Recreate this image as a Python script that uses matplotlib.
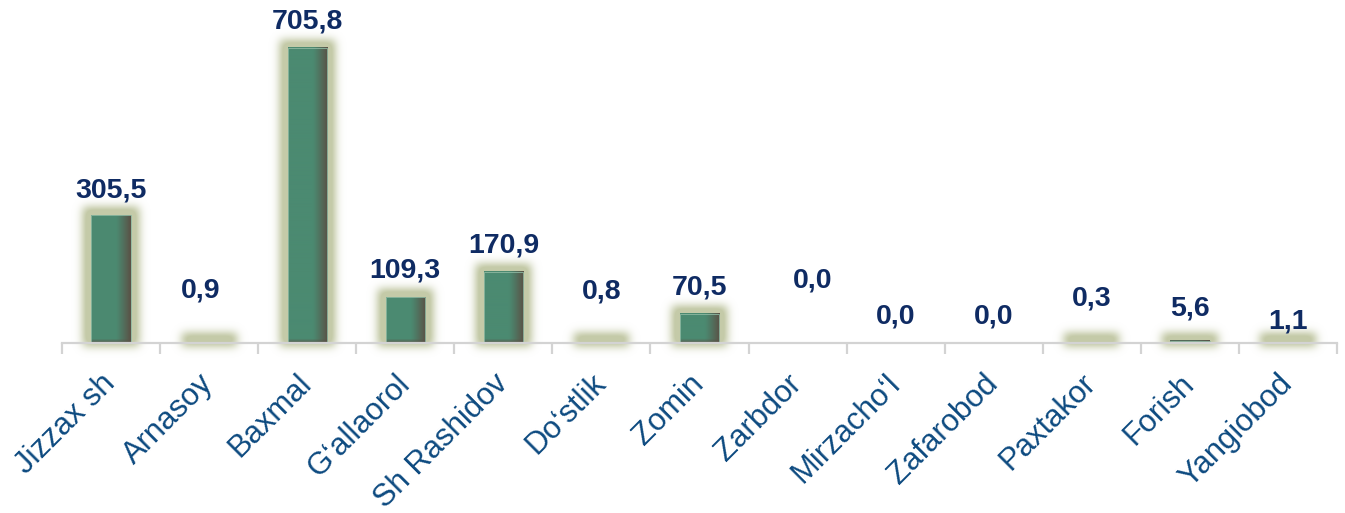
import numpy as np
import matplotlib
matplotlib.use("Agg")
import matplotlib.pyplot as plt
from matplotlib.patches import Rectangle

plt.rcParams['font.family'] = ['Liberation Sans', 'DejaVu Sans']

# Districts and values
districts = ["Jizzax sh", "Arnasoy", "Baxmal", "G\u2018allaorol", "Sh Rashidov",
             "Do\u2018stlik", "Zomin", "Zarbdor", "Mirzacho\u2018l", "Zafarobod",
             "Paxtakor", "Forish", "Yangiobod"]
values = [305.5, 0.9, 705.8, 109.3, 170.9, 0.8, 70.5, 0.0, 0.0, 0.0, 0.3, 5.6, 1.1]

# Label placement (pixels relative to bar top / category centre)
label_dy = [25, 52, 26, 27, 26, 51, 26, 63, 26, 26, 44, 32, 21]
label_dx = [0, -8, 0, 0, 0, 0, 0, 15, 0, 0, 0, 0, 0]

W, H, DPI = 1345, 513, 100
fig = plt.figure(figsize=(W / DPI, H / DPI), dpi=DPI)
fig.patch.set_facecolor('white')

bg = fig.add_axes([0, 0, 1, 1], zorder=0)
bg.set_axis_off()

ax = fig.add_axes([62 / W, 170 / H, 1275 / W, 343 / H], zorder=1)
ax.patch.set_alpha(0)
n = len(values)
ymax = 820.6
ax.set_xlim(0, n)
ax.set_ylim(0, ymax)

bar_w = 0.4
fig.canvas.draw()

# Soft glow behind each non-zero bar, built in pixel space
mask = np.zeros((H, W))
expand = 8
for i, v in enumerate(values):
    if v <= 0:
        continue
    (x0, y0), (x1, y1) = ax.transData.transform([(i + 0.5 - bar_w / 2, 0),
                                                 (i + 0.5 + bar_w / 2, v)])
    y1 = max(y1, y0 + 1.5)
    c0 = int(round(x0 - expand)); c1 = int(round(x1 + expand))
    r0 = int(round(y0 - 3)); r1 = int(round(y1 + expand))
    mask[r0:r1, c0:c1] = 1.0

sigma = 4.5
k = np.arange(-16, 17)
kern = np.exp(-k ** 2 / (2 * sigma ** 2)); kern /= kern.sum()
blur = np.apply_along_axis(lambda r: np.convolve(r, kern, mode='same'), 1, mask)
blur = np.apply_along_axis(lambda c: np.convolve(c, kern, mode='same'), 0, blur)
glow = np.zeros((H, W, 4))
glow[..., 0] = 0.73; glow[..., 1] = 0.76; glow[..., 2] = 0.60
glow[..., 3] = np.clip(blur * 1.35, 0, 1) * 0.85
bg.imshow(glow, origin='lower', extent=(0, W, 0, H), interpolation='bilinear')
bg.set_xlim(0, W); bg.set_ylim(0, H)

# Bars with horizontal shading and darker foot
teal = np.array([75, 138, 113]) / 255
dark = np.array([90, 82, 70]) / 255
px_per_unit = 343 / ymax
for i, v in enumerate(values):
    if v <= 0:
        continue
    hp = max(int(round(v * px_per_unit)), 1)
    cols = 40
    t = np.linspace(0, 1, cols)
    wgt = np.clip((t - 0.62) / 0.38, 0, 1) ** 1.2
    row = teal[None, :] * (1 - wgt[:, None]) + dark[None, :] * wgt[:, None]
    img = np.repeat(row[None, :, :], hp, axis=0)
    foot = min(4, hp)
    for r in range(foot):
        a = 0.75 * (1 - r / 4.0)
        img[hp - 1 - r] = img[hp - 1 - r] * (1 - a) + dark * a
    xl = i + 0.5 - bar_w / 2
    ax.imshow(img, extent=(xl, xl + bar_w, 0, v), aspect='auto',
              interpolation='bilinear', zorder=2)
    ax.add_patch(Rectangle((xl, 0), bar_w, v, fill=False, lw=0.6,
                           ec='#8fb9a2', zorder=3))

ax.set_xlim(0, n)
ax.set_ylim(0, ymax)

# Value labels
for i, v in enumerate(values):
    ax.annotate(f"{v:.1f}".replace('.', ','), xy=(i + 0.5, v),
                xytext=(label_dx[i], label_dy[i]), textcoords='offset pixels',
                ha='center', va='center', fontsize=20.5, fontweight='bold',
                color='#0f2b63', zorder=5)

# Axis styling
for s in ['top', 'right', 'left']:
    ax.spines[s].set_visible(False)
ax.spines['bottom'].set_color('#d3d3d3')
ax.spines['bottom'].set_linewidth(1.6)
ax.spines['bottom'].set_zorder(4)
ax.set_yticks([])
ax.set_xticks(np.arange(0, n + 1))
ax.set_xticklabels([])
ax.tick_params(axis='x', which='major', length=8, width=1.6, color='#d3d3d3',
               direction='out')
ax.set_xticks(np.arange(n) + 0.5, minor=True)
ax.set_xticklabels(districts, minor=True, rotation=45, ha='right', va='center',
                   rotation_mode='anchor', fontsize=22.3, color='#0d4a80')
ax.tick_params(axis='x', which='minor', length=0, pad=26)

fig.savefig('out.png', dpi=DPI, facecolor='white')
